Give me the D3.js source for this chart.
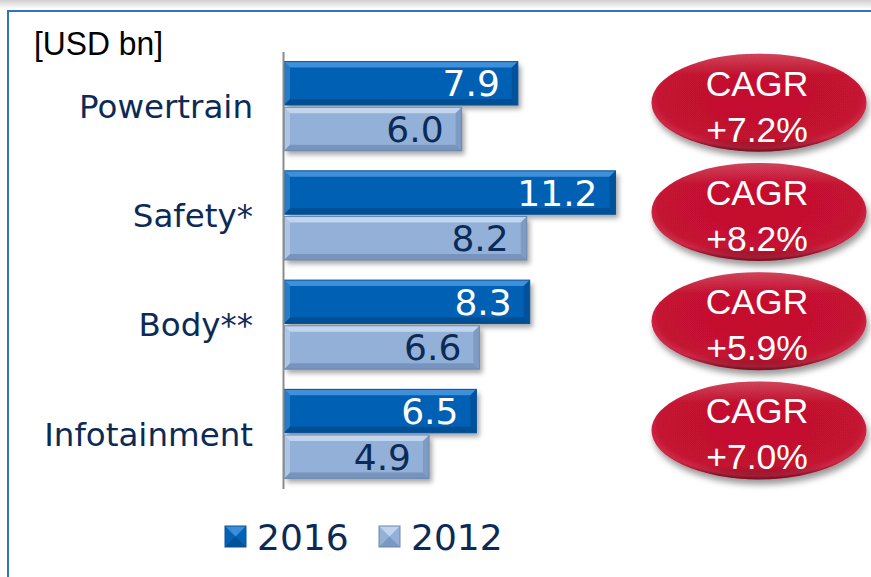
<!DOCTYPE html>
<html><head><meta charset="utf-8">
<script src="https://cdn.jsdelivr.net/npm/d3@7"></script>
<style>
html,body{margin:0;padding:0;background:#fff;}
svg{display:block;}
</style></head>
<body>
<script>
const categories = ["Powertrain", "Safety*", "Body**", "Infotainment"];
const seriesNames = ["2016", "2012"];
const values2016 = [7.9, 11.2, 8.3, 6.5];
const values2012 = [6.0, 8.2, 6.6, 4.9];
const cagrLabels = ["+7.2%", "+8.2%", "+5.9%", "+7.0%"];
const unitLabel = "[USD bn]";

const W = 871, H = 577;
const navy = "#0C2A56";
const svg = d3.select("body").append("svg").attr("width", W).attr("height", H);
const defs = svg.append("defs");

const topShade = defs.append("linearGradient").attr("id","topShade").attr("x1",0).attr("y1",0).attr("x2",0).attr("y2",1);
topShade.append("stop").attr("offset",0).attr("stop-color","#cfcfcf");
topShade.append("stop").attr("offset",1).attr("stop-color","#ffffff");

const sh = defs.append("filter").attr("id","shadow").attr("x","-10%").attr("y","-20%").attr("width","130%").attr("height","160%");
sh.append("feDropShadow").attr("dx",3).attr("dy",4).attr("stdDeviation",2.5).attr("flood-color","#000").attr("flood-opacity",0.35);
const sh2 = defs.append("filter").attr("id","shadow2").attr("x","-10%").attr("y","-20%").attr("width","130%").attr("height","160%");
sh2.append("feDropShadow").attr("dx",2).attr("dy",5).attr("stdDeviation",3).attr("flood-color","#000").attr("flood-opacity",0.4);

const red = defs.append("radialGradient").attr("id","redGrad").attr("cx","50%").attr("cy","45%").attr("r","55%");
red.append("stop").attr("offset","0%").attr("stop-color","#C5102F");
red.append("stop").attr("offset","84%").attr("stop-color","#C41230");
red.append("stop").attr("offset","94%").attr("stop-color","#CC2A47");
red.append("stop").attr("offset","100%").attr("stop-color","#A80E28");
const redTop = defs.append("linearGradient").attr("id","redTop").attr("x1",0).attr("y1",0).attr("x2",0).attr("y2",1);
redTop.append("stop").attr("offset","0%").attr("stop-color","#fff").attr("stop-opacity",0.2);
redTop.append("stop").attr("offset","22%").attr("stop-color","#fff").attr("stop-opacity",0.0);
redTop.append("stop").attr("offset","85%").attr("stop-color","#000").attr("stop-opacity",0.0);
redTop.append("stop").attr("offset","100%").attr("stop-color","#000").attr("stop-opacity",0.3);

svg.append("rect").attr("x",0).attr("y",0).attr("width",W).attr("height",9).attr("fill","url(#topShade)");
svg.append("line").attr("x1",8).attr("x2",W).attr("y1",11).attr("y2",11).attr("stroke","#2F75BE").attr("stroke-width",2);
svg.append("line").attr("x1",8).attr("x2",8).attr("y1",10).attr("y2",H).attr("stroke","#2F75BE").attr("stroke-width",2);

const x = d3.scaleLinear().domain([0, 12]).range([284, 284 + 12 * 29.6]);
const y0 = d3.scaleBand().domain(categories).range([51.5, 488.5]).paddingInner(0.185).paddingOuter(0.0925);
const y1 = d3.scaleBand().domain(seriesNames).range([0, y0.bandwidth()]).paddingInner(0.05);

const styles = {
  "2016": {fill:"#0561B3", light:"#4A98E0", dark:"#034A8A", stroke:"#04539C", text:"#ffffff"},
  "2012": {fill:"#93B1D8", light:"#CADCF3", dark:"#6F8DB6", stroke:"#6C87AE", text:navy}
};

const data = [];
categories.forEach((c,i)=>{
  data.push({cat:c, s:"2016", v:values2016[i]});
  data.push({cat:c, s:"2012", v:values2012[i]});
});

const bars = svg.append("g").selectAll("g.bar").data(data).join("g").attr("class","bar");
bars.each(function(d){
  const g = d3.select(this);
  const st = styles[d.s];
  const x0 = x(0), x1 = x(d.v);
  const yt = y0(d.cat) + y1(d.s), h = y1.bandwidth(), yb = yt + h;
  const b = 6;
  g.append("rect").attr("x",x0).attr("y",yt).attr("width",x1-x0).attr("height",h)
    .attr("fill",st.fill).attr("filter","url(#shadow)");
  g.append("polygon").attr("points",[[x0,yt],[x1,yt],[x1-b,yt+b],[x0+b,yt+b]].join(" ")).attr("fill",st.light).attr("opacity",0.85);
  g.append("polygon").attr("points",[[x0,yb],[x1,yb],[x1-b,yb-b],[x0+b,yb-b]].join(" ")).attr("fill",st.dark).attr("opacity",0.8);
  g.append("polygon").attr("points",[[x1,yt],[x1,yb],[x1-b,yb-b],[x1-b,yt+b]].join(" ")).attr("fill",st.dark).attr("opacity",0.6);
  g.append("polygon").attr("points",[[x0,yt],[x0,yb],[x0+b,yb-b],[x0+b,yt+b]].join(" ")).attr("fill",st.light).attr("opacity",0.5);
  g.append("rect").attr("x",x0).attr("y",yt).attr("width",x1-x0).attr("height",h)
    .attr("fill","none").attr("stroke",st.stroke).attr("stroke-width",1);
  g.append("text").attr("x",x1-18).attr("y",yt+h/2+13)
    .attr("text-anchor","end").attr("font-family","DejaVu Sans, Verdana, sans-serif")
    .attr("font-size",36).attr("fill",st.text).text(d.v.toFixed(1));
});

const axis = svg.append("g").attr("transform",`translate(${x(0)-1},0)`)
  .call(d3.axisLeft(y0).tickSize(0).tickSizeOuter(0).tickPadding(30));
axis.select(".domain").attr("stroke","#8C8C8C").attr("stroke-width",2);
axis.selectAll(".tick text").attr("font-family","DejaVu Sans, Verdana, sans-serif")
  .attr("font-size",32.5).attr("fill",navy).attr("dy","0.36em");

svg.append("text").attr("x",34).attr("y",55).attr("font-family","Liberation Sans, Arial, sans-serif")
  .attr("font-size",33).attr("textLength",129).attr("lengthAdjust","spacingAndGlyphs").attr("fill","#000").text(unitLabel);

const eg = svg.append("g").selectAll("g").data(categories).join("g");
eg.each(function(c,i){
  const g = d3.select(this);
  const cy = y0(c) + y0.bandwidth()/2 - 3.5;
  const cx = 759;
  g.append("ellipse").attr("cx",cx).attr("cy",cy).attr("rx",107.5).attr("ry",49)
    .attr("fill","url(#redGrad)").attr("filter","url(#shadow2)");
  g.append("ellipse").attr("cx",cx).attr("cy",cy).attr("rx",107.5).attr("ry",49)
    .attr("fill","url(#redTop)");
  g.append("text").attr("x",cx-2).attr("y",cy-7).attr("text-anchor","middle")
    .attr("font-family","Liberation Sans, Arial, sans-serif").attr("font-size",35.5).attr("fill","#fff").text("CAGR");
  g.append("text").attr("x",cx-2).attr("y",cy+39).attr("text-anchor","middle")
    .attr("font-family","Liberation Sans, Arial, sans-serif").attr("font-size",35.5).attr("fill","#fff").text(cagrLabels[i]);
});

const legX = [225, 379];
const lg = svg.append("g").selectAll("g").data(seriesNames).join("g");
lg.each(function(s,i){
  const g = d3.select(this);
  const st = styles[s];
  const sx = legX[i], sy = 526, sz = 21;
  g.append("rect").attr("x",sx).attr("y",sy).attr("width",sz).attr("height",sz).attr("fill",st.fill);
  g.append("polygon").attr("points",[[sx,sy],[sx+sz,sy],[sx+sz/2,sy+sz/2]].join(" ")).attr("fill",st.light).attr("opacity",0.8);
  g.append("polygon").attr("points",[[sx,sy+sz],[sx+sz,sy+sz],[sx+sz/2,sy+sz/2]].join(" ")).attr("fill",st.dark).attr("opacity",0.7);
  g.append("rect").attr("x",sx).attr("y",sy).attr("width",sz).attr("height",sz).attr("fill","none").attr("stroke",st.stroke).attr("stroke-width",1);
  g.append("text").attr("x",sx+32).attr("y",550).attr("font-family","DejaVu Sans, Verdana, sans-serif")
    .attr("font-size",36).attr("fill",navy).text(s);
});
</script>
</body></html>
